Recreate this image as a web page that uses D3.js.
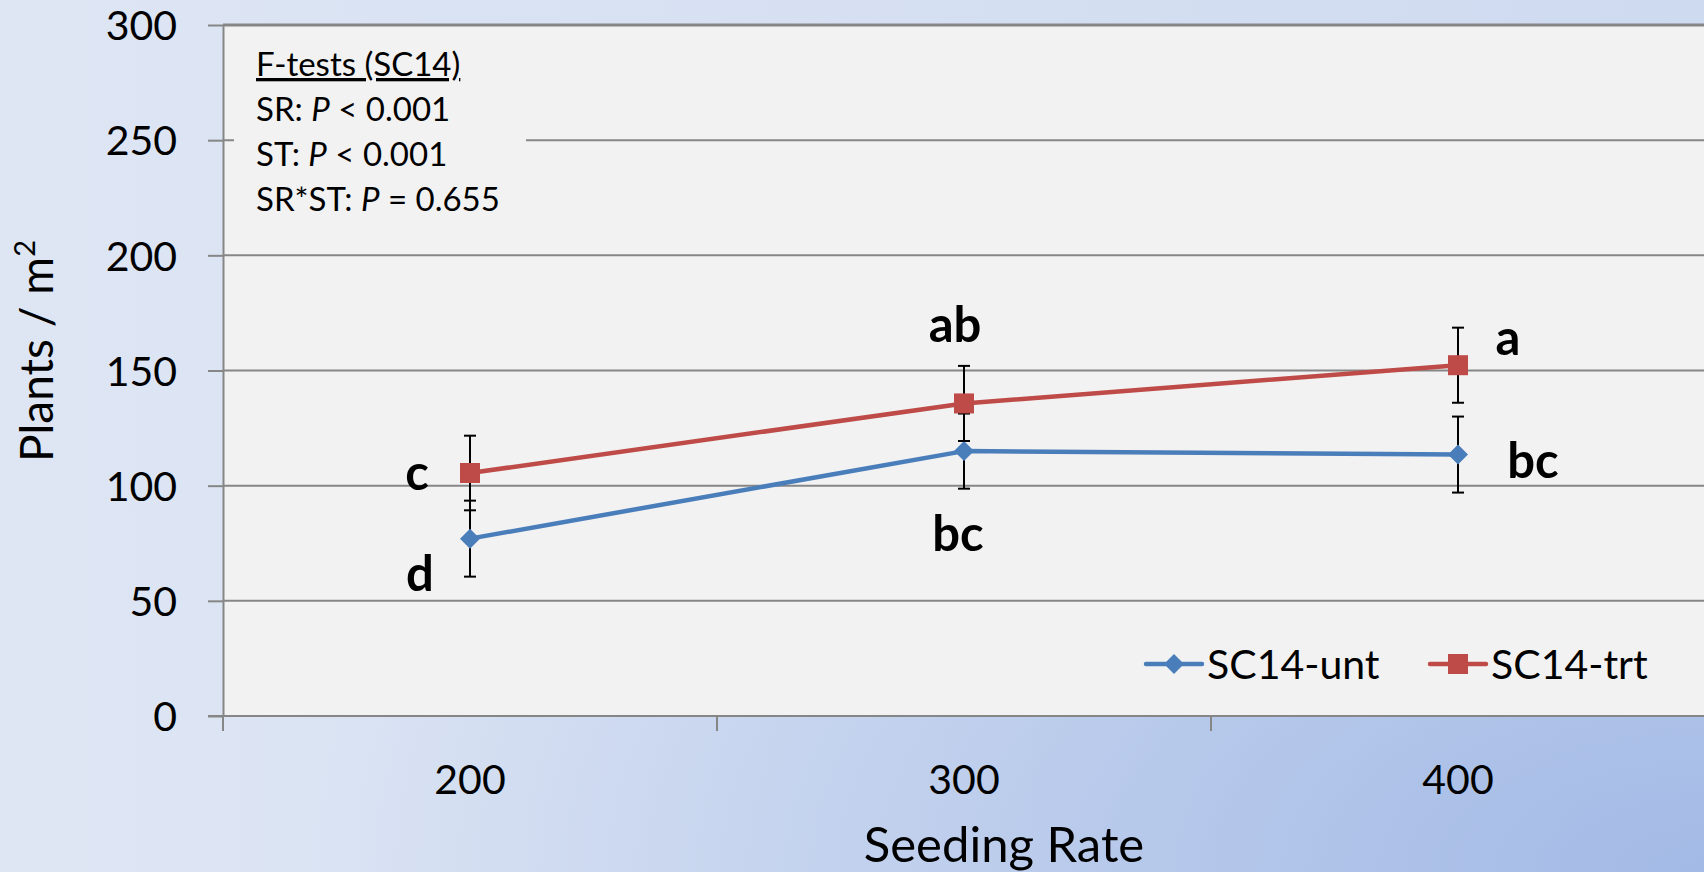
<!DOCTYPE html>
<html>
<head>
<meta charset="utf-8">
<script src="https://cdn.jsdelivr.net/npm/d3@7"></script>
<style>
  body { margin: 0; overflow: hidden; }
  svg { display: block; font-family: Lato, "Open Sans", sans-serif; }
</style>
</head>
<body>
<svg id="chart" width="1704" height="872"></svg>
<script>
// chart values
const categories = ["200", "300", "400"];
const untMeans = [77, 115, 113.5];
const untErrors = [16.5, 16.3, 16.5];
const trtMeans = [105.5, 135.7, 152.3];
const trtErrors = [16.2, 16.3, 16.3];
const untLetters = ["d", "bc", "bc"];
const trtLetters = ["c", "ab", "a"];
const yTicks = [0, 50, 100, 150, 200, 250, 300];
const seriesNames = ["SC14-unt", "SC14-trt"];
const fTestLines = [
    [["F-tests (SC14)", false]],
    [["SR: ", false], ["P", true], [" < 0.001", false]],
    [["ST: ", false], ["P", true], [" < 0.001", false]],
    [["SR*ST: ", false], ["P", true], [" = 0.655", false]]
];

// layout
const width = 1704, height = 872;
const plotLeft = 223, plotTop = 25, plotBottom = 716, plotRight = 1705;
const blue = "#4a7ebb", red = "#be4b48", gridColor = "#868686";

// letter offsets from their point (px), placed by hand like the original text boxes
const untLetterOffsets = [[-50, 52], [-6, 100], [75, 23]];
const trtLetterOffsets = [[-53, 17], [-9, -61], [50, -10]];

const svg = d3.select("#chart");
const defs = svg.append("defs");

const lin = defs.append("linearGradient").attr("id", "bgLin");
lin.append("stop").attr("offset", "0%").attr("stop-color", "#dee6f4");
lin.append("stop").attr("offset", "100%").attr("stop-color", "#cedaf0");

const rad = defs.append("radialGradient").attr("id", "bgRad")
    .attr("cx", 1).attr("cy", 1).attr("r", 0.82);
rad.append("stop").attr("offset", "0%").attr("stop-color", "#a3bae6").attr("stop-opacity", 1);
rad.append("stop").attr("offset", "100%").attr("stop-color", "#a3bae6").attr("stop-opacity", 0);

svg.append("rect").attr("width", width).attr("height", height).attr("fill", "url(#bgLin)");
svg.append("rect").attr("width", width).attr("height", height).attr("fill", "url(#bgRad)");

// plot area
svg.append("rect")
    .attr("x", plotLeft).attr("y", plotTop)
    .attr("width", plotRight - plotLeft).attr("height", plotBottom - plotTop)
    .attr("fill", "#f2f2f2");

const x = d3.scaleBand().domain(categories).range([plotLeft, plotRight]);
const cx = c => x(c) + x.bandwidth() / 2;
const y = d3.scaleLinear().domain([0, 300]).range([plotBottom, plotTop]);

// gridlines
svg.append("g")
    .selectAll("line")
    .data(yTicks.filter(d => d > 0))
    .join("line")
    .attr("x1", plotLeft).attr("x2", plotRight)
    .attr("y1", d => y(d)).attr("y2", d => y(d))
    .attr("stroke", gridColor)
    .attr("stroke-width", d => d === 300 ? 3 : 2);

// F-test text box (covers the gridline behind it)
svg.append("rect")
    .attr("x", 234).attr("y", 38)
    .attr("width", 292).attr("height", 186)
    .attr("fill", "#f2f2f2");

const fText = svg.append("text")
    .attr("font-size", 33)
    .attr("fill", "#000");
fTestLines.forEach((parts, i) => {
    const row = fText.append("tspan").attr("x", 256).attr("y", 76 + i * 45);
    parts.forEach(([t, italic]) => {
        row.append("tspan")
            .attr("font-style", italic ? "italic" : "normal")
            .attr("text-decoration", i === 0 ? "underline" : null)
            .text(t);
    });
});

// y axis
const yAxis = svg.append("g")
    .attr("transform", `translate(${plotLeft},0)`)
    .call(d3.axisLeft(y).tickValues(yTicks).tickSize(15).tickSizeOuter(0).tickPadding(31));
yAxis.select(".domain").attr("stroke", gridColor).attr("stroke-width", 2);
yAxis.selectAll(".tick line").attr("stroke", gridColor).attr("stroke-width", 2);
yAxis.selectAll(".tick text")
    .attr("font-size", 41).attr("font-family", "Lato").attr("fill", "#000").attr("dy", "0.36em");

// x axis
const xAxis = svg.append("g")
    .attr("transform", `translate(0,${plotBottom})`)
    .call(d3.axisBottom(x).tickSize(0).tickPadding(49));
xAxis.select(".domain").remove();
xAxis.selectAll(".tick text")
    .attr("font-size", 41).attr("font-family", "Lato").attr("fill", "#000");

svg.append("line")
    .attr("x1", plotLeft - 15).attr("x2", plotRight)
    .attr("y1", plotBottom).attr("y2", plotBottom)
    .attr("stroke", gridColor).attr("stroke-width", 2);
svg.append("g")
    .selectAll("line")
    .data(categories)
    .join("line")
    .attr("x1", d => x(d)).attr("x2", d => x(d))
    .attr("y1", plotBottom).attr("y2", plotBottom + 15)
    .attr("stroke", gridColor).attr("stroke-width", 2);

// axis titles
svg.append("text")
    .attr("x", cx("300") + 40).attr("y", 862)
    .attr("text-anchor", "middle")
    .attr("font-size", 49)
    .text("Seeding Rate");

const yTitle = svg.append("text")
    .attr("transform", "translate(53,351) rotate(-90)")
    .attr("text-anchor", "middle")
    .attr("font-size", 46);
yTitle.append("tspan").text("Plants / m");
yTitle.append("tspan").attr("font-size", 29).attr("dy", -18).text("2");

// series
const series = [
    { name: seriesNames[0], means: untMeans, errs: untErrors, letters: untLetters, offsets: untLetterOffsets, color: blue, marker: "diamond" },
    { name: seriesNames[1], means: trtMeans, errs: trtErrors, letters: trtLetters, offsets: trtLetterOffsets, color: red, marker: "square" }
];

const line = d3.line().x((d, i) => cx(categories[i])).y(d => y(d));

function drawMarker(g, type, color) {
    if (type === "square") {
        g.append("rect").attr("x", -10).attr("y", -10).attr("width", 20).attr("height", 20).attr("fill", color);
    } else {
        g.append("path").attr("d", "M0,-10L10,0L0,10L-10,0Z").attr("fill", color);
    }
}

series.forEach(s => {
    const g = svg.append("g");
    g.append("path")
        .datum(s.means)
        .attr("fill", "none")
        .attr("stroke", s.color)
        .attr("stroke-width", 4.5)
        .attr("stroke-linejoin", "round")
        .attr("d", line);

    const err = g.append("g").attr("stroke", "#000").attr("stroke-width", 2);
    s.means.forEach((m, i) => {
        const px = cx(categories[i]);
        const lo = y(m - s.errs[i]), hi = y(m + s.errs[i]);
        err.append("line").attr("x1", px).attr("x2", px).attr("y1", lo).attr("y2", hi);
        err.append("line").attr("x1", px - 6).attr("x2", px + 6).attr("y1", lo).attr("y2", lo);
        err.append("line").attr("x1", px - 6).attr("x2", px + 6).attr("y1", hi).attr("y2", hi);
    });

    s.means.forEach((m, i) => {
        const mg = g.append("g").attr("transform", `translate(${cx(categories[i])},${y(m)})`);
        drawMarker(mg, s.marker, s.color);
    });
});

// letter labels
series.forEach(s => {
    svg.append("g")
        .selectAll("text")
        .data(s.letters)
        .join("text")
        .attr("x", (d, i) => cx(categories[i]) + s.offsets[i][0])
        .attr("y", (d, i) => y(s.means[i]) + s.offsets[i][1])
        .attr("text-anchor", "middle")
        .attr("font-size", 49)
        .attr("font-weight", "bold")
        .text(d => d);
});

// legend
const legendItems = [
    { x: 1146, s: series[0] },
    { x: 1430, s: series[1] }
];
legendItems.forEach(item => {
    const lg = svg.append("g").attr("transform", `translate(${item.x},664)`);
    lg.append("line").attr("x1", 0).attr("x2", 56).attr("y1", 0).attr("y2", 0)
        .attr("stroke", item.s.color).attr("stroke-width", 4.5).attr("stroke-linecap", "round");
    const mg = lg.append("g").attr("transform", "translate(28,0)");
    drawMarker(mg, item.s.marker, item.s.color);
    lg.append("text").attr("x", 61).attr("y", 15).attr("font-size", 41).text(item.s.name);
});
</script>
</body>
</html>
